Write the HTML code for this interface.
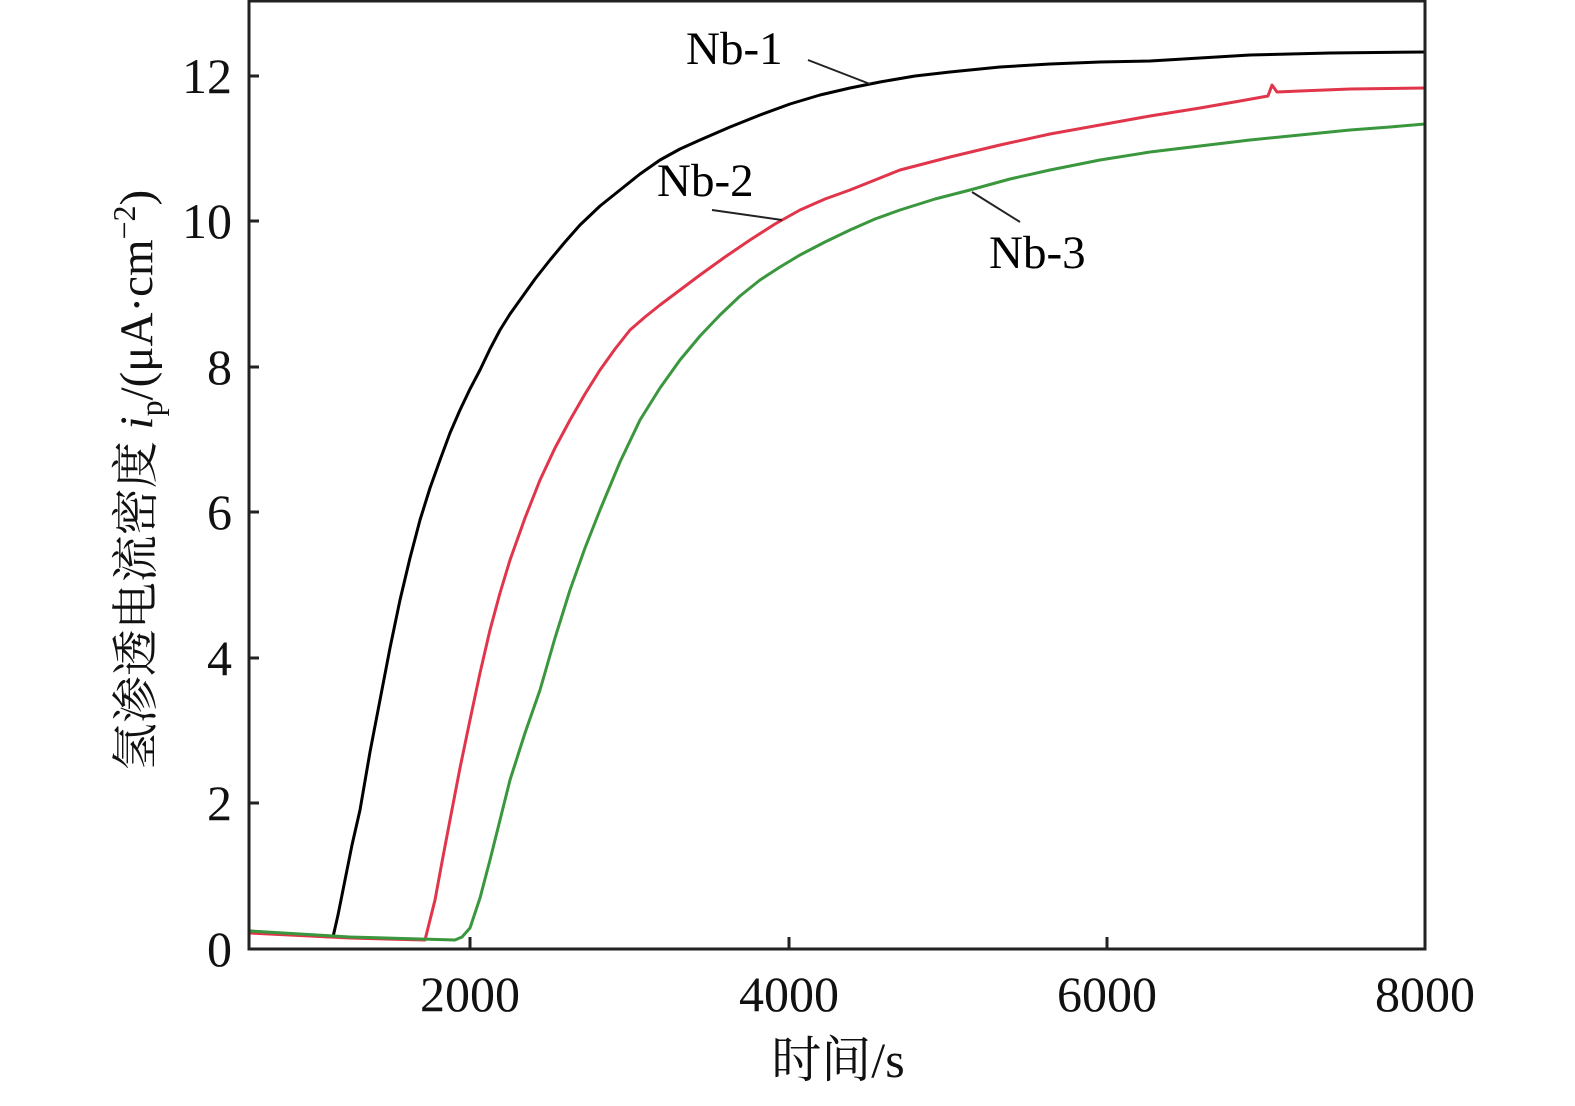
<!DOCTYPE html>
<html><head><meta charset="utf-8"><style>body{margin:0;background:#fff}</style></head><body>
<svg width="1575" height="1101" xmlns="http://www.w3.org/2000/svg" font-family="'Liberation Serif','Noto Serif CJK SC',serif">
<rect width="1575" height="1101" fill="#fff"/>
<g fill="none" stroke-width="3" stroke-linejoin="round">
<polyline stroke="#000" points="249,931 300,935 333,937 338,915 345,880 352,845 360,810 370,752 380,700 390,648 400,600 410,558 420,520 430,488 440,460 450,433 460,410 470,389 480,370 490,349 500,330 510,314 520,300 535,279 550,260 565,242 580,225 600,206 620,190 640,174 660,160 680,149 700,140 730,127 760,115 790,104 820,95 850,88 880,82 915,76 950,72 1000,67 1050,64 1100,62 1150,61 1200,58 1250,55 1330,53 1425,52"/>
<polyline stroke="#e0354a" points="249,933 350,938 425,940 430,920 435,900 442,862 450,820 460,768 470,720 480,673 490,630 500,593 510,560 525,518 540,480 555,448 570,420 585,394 600,370 615,349 630,330 645,317 660,305 680,290 700,275 725,257 750,240 775,224 800,210 825,199 850,190 875,180 900,170 950,157 1000,145 1050,134 1100,125 1150,116 1200,108 1240,101 1268,96 1272,85 1277,92 1300,91 1350,89 1425,88"/>
<polyline stroke="#3a973e" points="249,931 350,937 455,940 462,937 470,928 480,898 490,860 500,820 510,780 525,733 540,690 555,638 570,590 585,548 600,510 620,462 640,420 660,388 680,360 700,336 720,315 740,296 760,280 780,267 800,255 825,242 850,230 875,219 900,210 935,199 970,190 1010,179 1050,170 1100,160 1150,152 1200,146 1250,140 1300,135 1350,130 1390,127 1425,124"/>
</g>
<g stroke="#222" stroke-width="3" fill="none">
<rect x="249" y="1" width="1176" height="948"/>
<path d="M470,949v-12M789,949v-12M1107,949v-12M249,803h10M249,658h10M249,512h10M249,367h10M249,221h10M249,76h10"/>
<path d="M808,60L870,84M712,210L782,220M972,192L1020,222" stroke-width="2"/>
</g>
<g font-size="50" fill="#111" text-anchor="end">
<text x="232" y="966">0</text><text x="232" y="820">2</text><text x="232" y="675">4</text><text x="232" y="529">6</text><text x="232" y="384">8</text><text x="232" y="238">10</text><text x="232" y="93">12</text>
</g>
<g font-size="50" fill="#111" text-anchor="middle">
<text x="470" y="1011">2000</text><text x="789" y="1011">4000</text><text x="1107" y="1011">6000</text><text x="1425" y="1011">8000</text>
<text x="838" y="1077">时间/s</text>
</g>
<g font-size="47" fill="#000">
<text x="686" y="64">Nb-1</text><text x="657" y="196">Nb-2</text><text x="989" y="268">Nb-3</text>
</g>
<text transform="translate(152,480) rotate(-90)" font-size="47" fill="#111" text-anchor="middle">氢渗透电流密度 <tspan font-style="italic">i</tspan><tspan font-size="32" dy="10">p</tspan><tspan dy="-10">/(μA·cm</tspan><tspan font-size="32" dy="-17">−2</tspan><tspan dy="17">)</tspan></text>
</svg>
</body></html>
